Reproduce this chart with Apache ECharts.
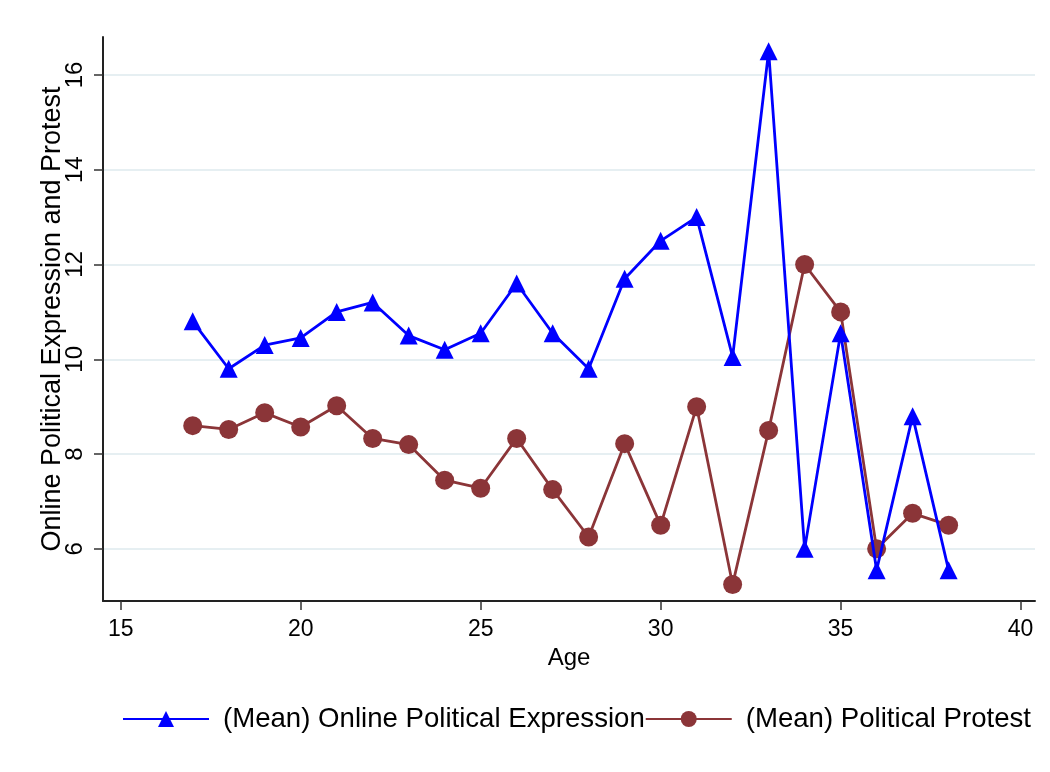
<!DOCTYPE html>
<html>
<head>
<meta charset="utf-8">
<script src="https://cdn.jsdelivr.net/npm/echarts@6/dist/echarts.min.js"></script>
<style>
  html, body { margin: 0; padding: 0; background: #fff; }
  #chart { width: 1050px; height: 772px; }
</style>
</head>
<body>
<div id="chart"></div>
<script>
// ages on the x axis
var ages = [17, 18, 19, 20, 21, 22, 23, 24, 25, 26, 27, 28, 29, 30, 31, 32, 33, 34, 35, 36, 37, 38];
// (Mean) Online Political Expression
var expression = [10.8, 9.8, 10.3, 10.45, 11.0, 11.2, 10.5, 10.2, 10.55, 11.6, 10.55, 9.8, 11.7, 12.5, 13.0, 10.05, 16.5, 6.0, 10.55, 5.55, 8.8, 5.55];
// (Mean) Political Protest
var protest = [8.6, 8.52, 8.87, 8.57, 9.02, 8.33, 8.2, 7.45, 7.28, 8.33, 7.25, 6.25, 8.22, 6.5, 9.0, 5.25, 8.5, 12.0, 11.0, 6.0, 6.75, 6.5];
var xTicks = [15, 20, 25, 30, 35, 40];
var yTicks = [6, 8, 10, 12, 14, 16];

function pairs(ys) {
  return ages.map(function (a, i) { return [a, ys[i]]; });
}

var font = '"Liberation Sans", Arial, sans-serif';
var myChart = echarts.init(document.getElementById('chart'));
var option = {
  backgroundColor: '#ffffff',
  animation: false,
  textStyle: { fontFamily: font },
  grid: { left: 103, right: 15, top: 37, bottom: 171 },
  legend: {
    top: 700,
    left: 117,
    itemWidth: 86,
    itemHeight: 20,
    itemGap: 0,
    textStyle: { fontSize: 27.6, color: '#000', fontFamily: font, padding: [0, 0, 0, 9] },
    data: ['(Mean) Online Political Expression', '(Mean) Political Protest']
  },
  xAxis: {
    type: 'value',
    min: 14.508,
    max: 40.4,
    name: 'Age',
    nameLocation: 'middle',
    nameGap: 41,
    nameTextStyle: { fontSize: 24, color: '#000' },
    axisLine: { lineStyle: { color: '#222', width: 2 } },
    axisTick: { customValues: xTicks, length: 9, lineStyle: { color: '#333', width: 1.5 } },
    axisLabel: { customValues: xTicks, fontSize: 23, color: '#000', margin: 17 },
    splitLine: { show: false }
  },
  yAxis: {
    type: 'value',
    min: 4.9,
    max: 16.8,
    name: 'Online Political Expression and Protest',
    nameLocation: 'middle',
    nameRotate: 90,
    nameGap: 37,
    nameMoveOverlap: false,
    nameTextStyle: { fontSize: 27, color: '#000' },
    axisLine: { show: true, lineStyle: { color: '#222', width: 2 } },
    axisTick: { customValues: yTicks, length: 9, lineStyle: { color: '#333', width: 1.5 } },
    axisLabel: { customValues: yTicks, rotate: 90, fontSize: 24, color: '#000', margin: 16 },
    splitLine: { show: true, lineStyle: { color: '#e6eff2', width: 2 } }
  },
  series: [
    {
      name: '(Mean) Online Political Expression',
      type: 'line',
      data: pairs(expression),
      symbol: 'triangle',
      symbolSize: 18,
      color: '#0000ff',
      lineStyle: { width: 2.8, color: '#0000ff' },
      itemStyle: { color: '#0000ff' },
      z: 3
    },
    {
      name: '(Mean) Political Protest',
      type: 'line',
      data: pairs(protest),
      symbol: 'circle',
      symbolSize: 19,
      color: '#8b3538',
      lineStyle: { width: 2.8, color: '#8b3538' },
      itemStyle: { color: '#8b3538' },
      z: 2
    }
  ]
};
myChart.setOption(option);
</script>
</body>
</html>
